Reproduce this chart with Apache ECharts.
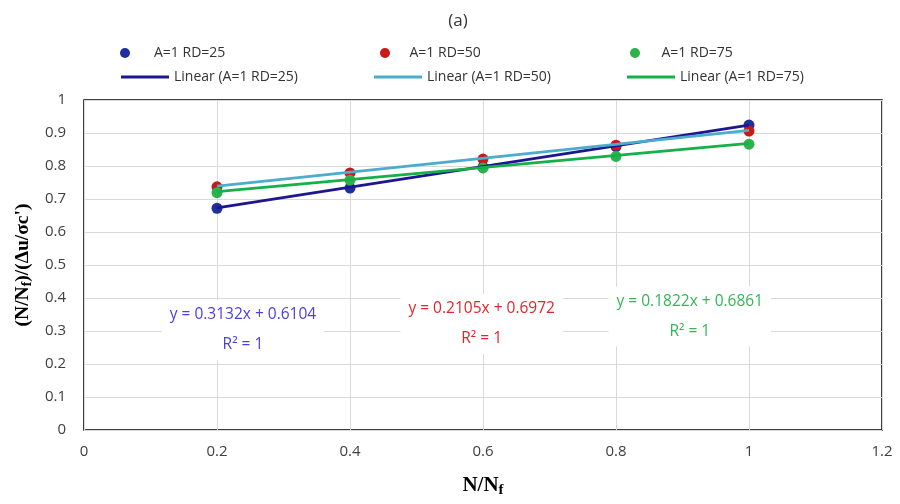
<!DOCTYPE html>
<html><head><meta charset="utf-8">
<script src="https://cdn.jsdelivr.net/npm/echarts@6/dist/echarts.min.js"></script>
<style>html,body{margin:0;padding:0;background:#fff}#c{width:900px;height:504px}</style>
</head><body><div id="c"></div>
<script>
// ---- data ----
const xValues = [0.2, 0.4, 0.6, 0.8, 1.0];
const rd25 = [0.672, 0.733, 0.797, 0.859, 0.924];
const rd50 = [0.737, 0.779, 0.821, 0.863, 0.906];
const rd75 = [0.719, 0.757, 0.794, 0.829, 0.866];
const seriesNames = ['A=1 RD=25', 'A=1 RD=50', 'A=1 RD=75'];
const trendNames = ['Linear (A=1 RD=25)', 'Linear (A=1 RD=50)', 'Linear (A=1 RD=75)'];
const slopes = [0.3132, 0.2105, 0.1822];
const intercepts = [0.6104, 0.6972, 0.6861];
const eqTexts = ['y = 0.3132x + 0.6104', 'y = 0.2105x + 0.6972', 'y = 0.1822x + 0.6861'];
const r2Texts = ['R² = 1', 'R² = 1', 'R² = 1'];
const eqAnchors = [[0.239, 0.303], [0.598, 0.321], [0.911, 0.344]];
const titleText = '(a)';

// ---- styles ----
const markerColors = ['#1f2f9c', '#c81818', '#2cb24a'];
const lineColors = ['#1e1690', '#4badcb', '#16b049'];
const eqColors = ['#4a3fe0', '#e0262a', '#34b657'];
const FONT = 'Open Sans';
const allValues = [rd25, rd50, rd75];

const series = [];
allValues.forEach((vals, i) => {
  series.push({
    name: seriesNames[i], type: 'scatter', symbol: 'circle', symbolSize: 11, z: 3,
    itemStyle: { color: markerColors[i], opacity: 1 },
    data: xValues.map((x, k) => [x, vals[k]])
  });
});
allValues.forEach((vals, i) => {
  const x0 = xValues[0], x1 = xValues[xValues.length - 1];
  series.push({
    name: trendNames[i], type: 'line', symbol: 'none', z: 4,
    lineStyle: { color: lineColors[i], width: 2.8 },
    itemStyle: { color: lineColors[i] },
    data: [[x0, slopes[i] * x0 + intercepts[i]], [x1, slopes[i] * x1 + intercepts[i]]],
    markPoint: {
      symbol: 'rect', symbolSize: 1, itemStyle: { color: 'rgba(0,0,0,0)' },
      z: 5,
      data: [{ coord: eqAnchors[i], value: 0 }],
      label: {
        show: true, position: 'inside',
        formatter: eqTexts[i] + '\n' + r2Texts[i],
        color: eqColors[i], fontFamily: FONT, fontSize: 15.5, lineHeight: 30,
        align: 'center', verticalAlign: 'middle',
        backgroundColor: '#fff', padding: [0, 8]
      }
    }
  });
});

const legendText = { fontFamily: FONT, fontSize: 14, color: '#333', lineHeight: 14 };
const markerLegendLeft = [120, 380, 630];
const markerLegendW = [48, 39, 43];
const lineLegendLeft = [121, 374, 627];
const legends = [];
for (let i = 0; i < 3; i++) {
  legends.push({ data: [{ name: seriesNames[i], icon: 'circle' }], left: markerLegendLeft[i], top: 46, padding: 0,
    itemWidth: markerLegendW[i], itemHeight: 10, textStyle: legendText, selectedMode: false });
  legends.push({ data: [{ name: trendNames[i], icon: 'rect' }], left: lineLegendLeft[i], top: 70, padding: 0,
    itemWidth: 48, itemHeight: 3, textStyle: legendText, selectedMode: false });
}

const chart = echarts.init(document.getElementById('c'), null, { renderer: 'canvas' });
chart.setOption({
  backgroundColor: '#fff',
  animation: false,
  title: { text: titleText, left: 453, top: 8, textAlign: 'center',
    textStyle: { fontFamily: FONT, fontSize: 17, fontWeight: 'normal', color: '#333' } },
  legend: legends,
  grid: { left: 84, right: 18, top: 100, bottom: 74, show: true, borderColor: '#000', borderWidth: 1.5, containLabel: false },
  xAxis: {
    type: 'value', min: 0, max: 1.2, interval: 0.2,
    name: '{n|N/N}{s|f}', nameLocation: 'middle', nameGap: 43,
    nameTextStyle: { rich: {
      n: { fontFamily: 'Liberation Serif', fontSize: 21, fontWeight: 'bold', color: '#000' },
      s: { fontFamily: 'Liberation Serif', fontSize: 15, fontWeight: 'bold', color: '#000', padding: [10, 0, 0, 0] }
    } },
    axisLine: { show: false }, axisTick: { show: false },
    axisLabel: { fontFamily: FONT, fontSize: 15, color: '#404040', margin: 14 },
    splitLine: { show: true, lineStyle: { color: '#d9d9d9', width: 1 } }
  },
  yAxis: {
    type: 'value', min: 0, max: 1, interval: 0.1,
    name: '{n|(N/N}{s|f}{n|)/(Δu/σc\')}', nameLocation: 'middle', nameGap: 46, nameRotate: 90,
    nameTextStyle: { rich: {
      n: { fontFamily: 'Liberation Serif', fontSize: 19.5, fontWeight: 'bold', color: '#000' },
      s: { fontFamily: 'Liberation Serif', fontSize: 14, fontWeight: 'bold', color: '#000', padding: [9, 0, 0, 0] }
    } },
    axisLine: { show: false }, axisTick: { show: false },
    axisLabel: { fontFamily: FONT, fontSize: 15, color: '#404040', margin: 18 },
    splitLine: { show: true, lineStyle: { color: '#d9d9d9', width: 1 } }
  },
  series: series
});
</script>
</body></html>
